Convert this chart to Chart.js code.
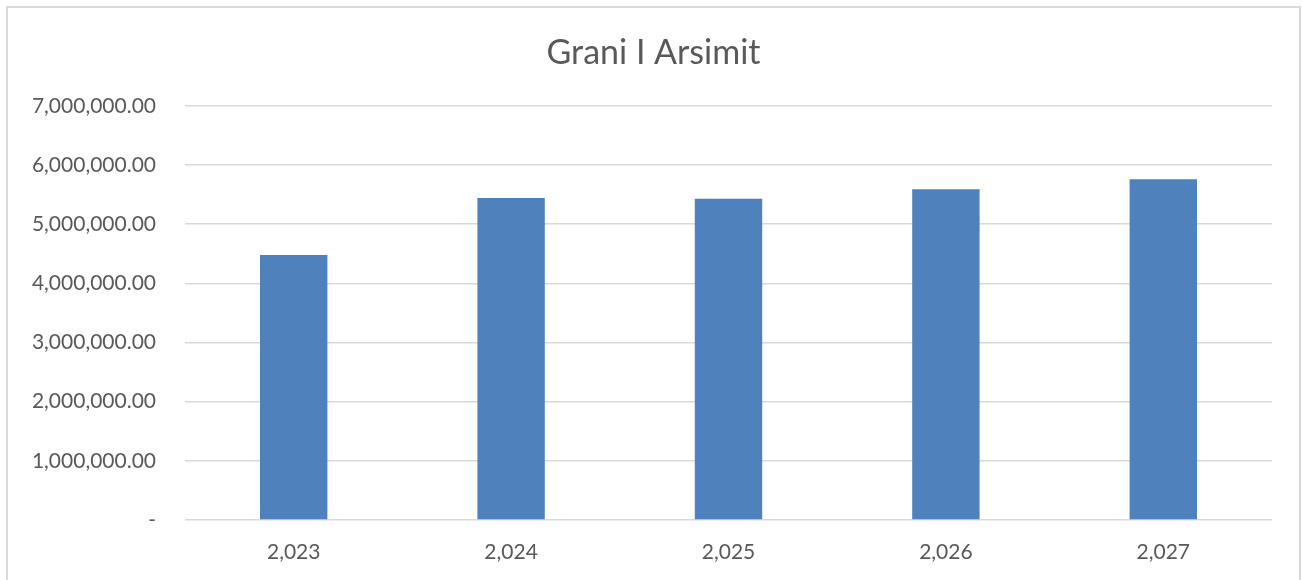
<!DOCTYPE html>
<html>
<head>
<meta charset="utf-8">
<script src="https://cdn.jsdelivr.net/npm/chart.js@4/dist/chart.umd.min.js"></script>
<style>
  html, body { margin: 0; padding: 0; background: #ffffff; }
  #wrap { position: relative; width: 1302px; height: 580px; }
</style>
</head>
<body>
<div id="wrap"><canvas id="c" width="1302" height="580"></canvas></div>
<script>
const chartTitle = "Grani I Arsimit";
const categories = ["2,023", "2,024", "2,025", "2,026", "2,027"];
const values = [4480000, 5440000, 5430000, 5590000, 5760000];
const yTickMax = 7000000;
const yTickStep = 1000000;

const textColor = "#595959";
const gridColor = "#d9d9d9";
const barColor = "#4f81bd";
const fontFamily = "Lato, 'Open Sans', sans-serif";

const frame = {
  id: "frame",
  beforeDraw(chart) {
    const ctx = chart.ctx;
    ctx.save();
    ctx.fillStyle = "#ffffff";
    ctx.fillRect(0, 0, chart.width, chart.height);
    ctx.strokeStyle = gridColor;
    ctx.lineWidth = 2;
    ctx.strokeRect(7, 7, 1293, 600);
    ctx.restore();
  }
};

new Chart(document.getElementById("c"), {
  type: "bar",
  data: {
    labels: categories,
    datasets: [{
      data: values,
      yAxisID: "y",
      backgroundColor: barColor,
      borderWidth: 0,
      barPercentage: 0.31,
      categoryPercentage: 1.0
    }]
  },
  options: {
    responsive: false,
    animation: false,
    layout: { padding: { left: 5, right: 0, top: 0, bottom: 0 } },
    plugins: {
      legend: { display: false },
      tooltip: { enabled: false },
      title: {
        display: true,
        text: chartTitle,
        color: textColor,
        font: { family: fontFamily, size: 34, weight: "normal" },
        padding: { top: 33, bottom: 32 }
      }
    },
    scales: {
      x: {
        grid: { display: false, drawTicks: false },
        border: { display: false },
        ticks: {
          color: textColor,
          font: { family: fontFamily, size: 21 },
          padding: 20,
          maxRotation: 0
        },
        afterFit(scale) { scale.height = 60; }
      },
      y: {
        min: 0,
        max: yTickMax,
        grid: { color: gridColor, lineWidth: 1.5, drawTicks: false },
        border: { display: false },
        ticks: {
          stepSize: yTickStep,
          color: textColor,
          font: { family: fontFamily, size: 21 },
          padding: 29,
          callback(v) {
            if (v === 0) return "-";
            return Number(v).toLocaleString("en-US", { minimumFractionDigits: 2, maximumFractionDigits: 2 });
          }
        },
        afterFit(scale) { scale.width = 180; }
      },
      yRight: {
        position: "right",
        display: true,
        grid: { display: false, drawTicks: false },
        border: { display: false },
        ticks: { display: false },
        afterFit(scale) { scale.width = 30; }
      }
    }
  },
  plugins: [frame]
});
</script>
</body>
</html>
